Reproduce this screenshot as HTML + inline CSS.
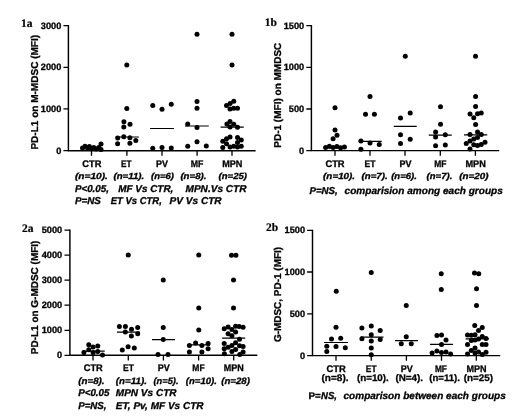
<!DOCTYPE html>
<html><head><meta charset="utf-8"><title>Figure</title>
<style>
html,body{margin:0;padding:0;background:#fff;}
body{width:520px;height:416px;overflow:hidden;}
svg{display:block;will-change:transform;}
text{text-rendering:geometricPrecision;font-family:"Liberation Sans",sans-serif;font-weight:bold;fill:#000;stroke:#000;stroke-width:.3px;}
.b{font-size:9.6px;}
.bi{font-size:10px;font-style:italic;}
.bi2{font-size:8.8px;font-style:italic;}
.bi3{font-size:9.2px;font-style:italic;}
.tk{font-size:9.2px;}
.yl{font-size:10px;}
.tag{font-family:"Liberation Serif",serif;font-size:11.5px;stroke-width:.2px;}
</style></head><body>
<svg width="520" height="416" viewBox="0 0 520 416">
<rect width="520" height="416" fill="#fff"/>
<g id="p1a">
<path d="M68.4 25.05V150.65H255.6" fill="none" stroke="#000" stroke-width="1.45" stroke-linejoin="miter"/>
<path d="M63.4 25.7H68.4M63.4 67.3H68.4M63.4 108.9H68.4M63.4 150.65H68.4M91.5 150.65V155.85M126.9 150.65V155.85M162.0 150.65V155.85M197.1 150.65V155.85M232.0 150.65V155.85" fill="none" stroke="#000" stroke-width="1.3"/>
<text class="tk" x="61.3" y="28.70" text-anchor="end">3000</text>
<text class="tk" x="61.3" y="70.30" text-anchor="end">2000</text>
<text class="tk" x="61.3" y="111.90" text-anchor="end">1000</text>
<text class="tk" x="61.3" y="153.65" text-anchor="end">0</text>
<text class="yl" transform="translate(37.6 149.6) rotate(-90)" textLength="114.7" lengthAdjust="spacingAndGlyphs">PD-L1 on M-MDSC (MFI)</text>
<text class="tag" x="21.1" y="26.9">1a</text>
<path d="M115.5 137.00H138.9M150.1 128.50H173.9M185 126.00H208.75M220.6 127.10H243.75" fill="none" stroke="#000" stroke-width="1.2"/>
<g fill="#000"><circle cx="82.5" cy="148.1" r="2.5"/><circle cx="85" cy="146.25" r="2.5"/><circle cx="87.5" cy="148" r="2.5"/><circle cx="89.4" cy="146.5" r="2.5"/><circle cx="91.25" cy="148.75" r="2.5"/><circle cx="93.75" cy="147.5" r="2.5"/><circle cx="96.25" cy="149" r="2.5"/><circle cx="98.75" cy="147.5" r="2.5"/><circle cx="101" cy="149.5" r="2.5"/><circle cx="101" cy="144" r="2.5"/><circle cx="126.8" cy="65" r="2.5"/><circle cx="126.8" cy="108.4" r="2.5"/><circle cx="123.9" cy="121.7" r="2.5"/><circle cx="130.0" cy="124.3" r="2.5"/><circle cx="123.8" cy="127.0" r="2.5"/><circle cx="117.7" cy="138.0" r="2.5"/><circle cx="123.8" cy="136.7" r="2.5"/><circle cx="129.9" cy="137.8" r="2.5"/><circle cx="135.8" cy="140.6" r="2.5"/><circle cx="117.6" cy="143.8" r="2.5"/><circle cx="129.9" cy="143.2" r="2.5"/><circle cx="152.75" cy="105.4" r="2.5"/><circle cx="162" cy="109.25" r="2.5"/><circle cx="171.25" cy="104.2" r="2.5"/><circle cx="152.75" cy="148.25" r="2.5"/><circle cx="162" cy="147.5" r="2.5"/><circle cx="171.25" cy="148" r="2.5"/><circle cx="197" cy="34.2" r="2.5"/><circle cx="197" cy="101.5" r="2.5"/><circle cx="197" cy="108.2" r="2.5"/><circle cx="187.7" cy="124.1" r="2.5"/><circle cx="197" cy="127.5" r="2.5"/><circle cx="197" cy="141.7" r="2.5"/><circle cx="187.7" cy="146.3" r="2.5"/><circle cx="206.3" cy="145.9" r="2.5"/><circle cx="232" cy="34.2" r="2.5"/><circle cx="232" cy="65.1" r="2.5"/><circle cx="233.75" cy="101.3" r="2.5"/><circle cx="230.1" cy="103.6" r="2.5"/><circle cx="226.5" cy="105.5" r="2.5"/><circle cx="230" cy="108.9" r="2.5"/><circle cx="233.75" cy="108.25" r="2.5"/><circle cx="237.5" cy="108.25" r="2.5"/><circle cx="230" cy="121.4" r="2.5"/><circle cx="226.9" cy="123.9" r="2.5"/><circle cx="233.75" cy="124.25" r="2.5"/><circle cx="230" cy="127" r="2.5"/><circle cx="237.5" cy="127.25" r="2.5"/><circle cx="230" cy="136.9" r="2.5"/><circle cx="226.5" cy="138.75" r="2.5"/><circle cx="237.5" cy="137.5" r="2.5"/><circle cx="241.25" cy="140" r="2.5"/><circle cx="222.75" cy="141.25" r="2.5"/><circle cx="237.5" cy="142.5" r="2.5"/><circle cx="226.5" cy="143.75" r="2.5"/><circle cx="241.25" cy="146.25" r="2.5"/><circle cx="222.75" cy="147.5" r="2.5"/><circle cx="230" cy="146.9" r="2.5"/><circle cx="233.75" cy="146.25" r="2.5"/><circle cx="237.5" cy="146.9" r="2.5"/></g>
</g>
<g id="p1b">
<path d="M311.4 25.05V150.6H499.2" fill="none" stroke="#000" stroke-width="1.45" stroke-linejoin="miter"/>
<path d="M306.3 25.7H311.4M306.3 67.3H311.4M306.3 109.0H311.4M306.3 150.6H311.4M335 150.6V155.80M370 150.6V155.80M405 150.6V155.80M440.3 150.6V155.80M475.4 150.6V155.80" fill="none" stroke="#000" stroke-width="1.3"/>
<text class="tk" x="304.2" y="28.70" text-anchor="end">1500</text>
<text class="tk" x="304.2" y="70.30" text-anchor="end">1000</text>
<text class="tk" x="304.2" y="112.00" text-anchor="end">500</text>
<text class="tk" x="304.2" y="153.60" text-anchor="end">0</text>
<text class="yl" transform="translate(281.2 147.7) rotate(-90)" textLength="105.0" lengthAdjust="spacingAndGlyphs">PD-1 (MFI) on MMDSC</text>
<text class="tag" x="264.7" y="26.4">1b</text>
<path d="M323.75 148.00H346.5M358.75 141.30H381.75M393.75 126.45H416.75M428.75 135.20H451.75M464 134.80H487.25" fill="none" stroke="#000" stroke-width="1.2"/>
<g fill="#000"><circle cx="335" cy="107.75" r="2.5"/><circle cx="335" cy="130" r="2.5"/><circle cx="337" cy="135.25" r="2.5"/><circle cx="333.1" cy="138.75" r="2.5"/><circle cx="325.6" cy="147.5" r="2.5"/><circle cx="329.4" cy="146.25" r="2.5"/><circle cx="333.1" cy="147.5" r="2.5"/><circle cx="336.9" cy="146.5" r="2.5"/><circle cx="340.6" cy="147.75" r="2.5"/><circle cx="344.4" cy="146.9" r="2.5"/><circle cx="370" cy="96.6" r="2.5"/><circle cx="365.5" cy="114.3" r="2.5"/><circle cx="374.4" cy="114.3" r="2.5"/><circle cx="360.9" cy="141.1" r="2.5"/><circle cx="370" cy="143" r="2.5"/><circle cx="379.25" cy="144.5" r="2.5"/><circle cx="360.9" cy="149.3" r="2.5"/><circle cx="405.25" cy="56.25" r="2.5"/><circle cx="410.2" cy="113" r="2.5"/><circle cx="400.5" cy="117.9" r="2.5"/><circle cx="400.5" cy="134.8" r="2.5"/><circle cx="410.2" cy="139.25" r="2.5"/><circle cx="400.5" cy="143.6" r="2.5"/><circle cx="440.5" cy="106.75" r="2.5"/><circle cx="440.5" cy="124.3" r="2.5"/><circle cx="435.6" cy="132.1" r="2.5"/><circle cx="435.6" cy="137.1" r="2.5"/><circle cx="445.3" cy="134.8" r="2.5"/><circle cx="435.6" cy="145.7" r="2.5"/><circle cx="445.3" cy="144.9" r="2.5"/><circle cx="475.5" cy="56.25" r="2.5"/><circle cx="475.6" cy="96.5" r="2.5"/><circle cx="475.6" cy="106.5" r="2.5"/><circle cx="470" cy="114" r="2.5"/><circle cx="477.5" cy="113.75" r="2.5"/><circle cx="481.25" cy="112.9" r="2.5"/><circle cx="473.75" cy="117.75" r="2.5"/><circle cx="475.6" cy="124.4" r="2.5"/><circle cx="477.5" cy="131.9" r="2.5"/><circle cx="470" cy="134.5" r="2.5"/><circle cx="481.25" cy="134.6" r="2.5"/><circle cx="477.5" cy="137.4" r="2.5"/><circle cx="473.75" cy="139.1" r="2.5"/><circle cx="470" cy="141" r="2.5"/><circle cx="466.25" cy="143.5" r="2.5"/><circle cx="485" cy="142.25" r="2.5"/><circle cx="481.25" cy="144.4" r="2.5"/><circle cx="473.75" cy="144.75" r="2.5"/><circle cx="477.5" cy="145.6" r="2.5"/><circle cx="470" cy="149" r="2.5"/></g>
</g>
<g id="p2a">
<path d="M69.9 229.55V355.3H257.3" fill="none" stroke="#000" stroke-width="1.45" stroke-linejoin="miter"/>
<path d="M64.5 230.2H69.9M64.5 255.2H69.9M64.5 280.2H69.9M64.5 305.2H69.9M64.5 330.3H69.9M64.5 355.3H69.9M93 355.3V360.50M128.3 355.3V360.50M163.4 355.3V360.50M198.6 355.3V360.50M233.7 355.3V360.50" fill="none" stroke="#000" stroke-width="1.3"/>
<text class="tk" x="62.2" y="233.20" text-anchor="end">5000</text>
<text class="tk" x="62.2" y="258.20" text-anchor="end">4000</text>
<text class="tk" x="62.2" y="283.20" text-anchor="end">3000</text>
<text class="tk" x="62.2" y="308.20" text-anchor="end">2000</text>
<text class="tk" x="62.2" y="333.30" text-anchor="end">1000</text>
<text class="tk" x="62.2" y="358.30" text-anchor="end">0</text>
<text class="yl" transform="translate(37.7 354.2) rotate(-90)" textLength="113.6" lengthAdjust="spacingAndGlyphs">PD-L1 on G-MDSC (MFI)</text>
<text class="tag" x="22.1" y="231.5">2a</text>
<path d="M82.5 351.20H104.75M117 332.20H140M152 339.70H175M187 344.95H210M222.1 338.05H245.2" fill="none" stroke="#000" stroke-width="1.2"/>
<g fill="#000"><circle cx="88.75" cy="344.75" r="2.5"/><circle cx="93.1" cy="346.9" r="2.5"/><circle cx="97.75" cy="346" r="2.5"/><circle cx="88.75" cy="349.75" r="2.5"/><circle cx="97.75" cy="351.5" r="2.5"/><circle cx="83.9" cy="352.4" r="2.5"/><circle cx="93.1" cy="352.5" r="2.5"/><circle cx="102.5" cy="355" r="2.5"/><circle cx="128.25" cy="255" r="2.5"/><circle cx="119.4" cy="326.4" r="2.5"/><circle cx="125.4" cy="326.4" r="2.5"/><circle cx="137.7" cy="327.4" r="2.5"/><circle cx="131.5" cy="329.3" r="2.5"/><circle cx="125.3" cy="332.1" r="2.5"/><circle cx="137.7" cy="333.8" r="2.5"/><circle cx="131.4" cy="336" r="2.5"/><circle cx="128.1" cy="346.8" r="2.5"/><circle cx="134.3" cy="348.1" r="2.5"/><circle cx="122.3" cy="350" r="2.5"/><circle cx="163.25" cy="280" r="2.5"/><circle cx="163.25" cy="327.5" r="2.5"/><circle cx="163.25" cy="339.5" r="2.5"/><circle cx="158" cy="354.5" r="2.5"/><circle cx="168" cy="354.5" r="2.5"/><circle cx="198.75" cy="255" r="2.5"/><circle cx="198.75" cy="308" r="2.5"/><circle cx="198.75" cy="330" r="2.5"/><circle cx="195.6" cy="343.1" r="2.5"/><circle cx="208.1" cy="343.5" r="2.5"/><circle cx="189.4" cy="345.6" r="2.5"/><circle cx="201.9" cy="345.6" r="2.5"/><circle cx="208.1" cy="348.75" r="2.5"/><circle cx="189.4" cy="351.9" r="2.5"/><circle cx="201.9" cy="351.9" r="2.5"/><circle cx="231.5" cy="255.25" r="2.5"/><circle cx="235.9" cy="255.25" r="2.5"/><circle cx="233.5" cy="280" r="2.5"/><circle cx="224.2" cy="328.85" r="2.5"/><circle cx="228.1" cy="326.9" r="2.5"/><circle cx="231.9" cy="329.6" r="2.5"/><circle cx="235.6" cy="326.15" r="2.5"/><circle cx="239.2" cy="326.5" r="2.5"/><circle cx="243.1" cy="327.3" r="2.5"/><circle cx="235.6" cy="331.9" r="2.5"/><circle cx="228.1" cy="333.85" r="2.5"/><circle cx="231.9" cy="335.8" r="2.5"/><circle cx="239.5" cy="339.2" r="2.5"/><circle cx="224.2" cy="343.5" r="2.5"/><circle cx="235.6" cy="342.7" r="2.5"/><circle cx="231.9" cy="345.4" r="2.5"/><circle cx="239.5" cy="345.8" r="2.5"/><circle cx="243.1" cy="346.5" r="2.5"/><circle cx="228.1" cy="347.3" r="2.5"/><circle cx="224.2" cy="348.85" r="2.5"/><circle cx="235.6" cy="349.6" r="2.5"/><circle cx="231.9" cy="351.5" r="2.5"/><circle cx="243.1" cy="351.9" r="2.5"/><circle cx="224.4" cy="353.75" r="2.5"/><circle cx="239.75" cy="354.4" r="2.5"/><circle cx="233.5" cy="308" r="2.5"/></g>
</g>
<g id="p2b">
<path d="M312.5 229.65V355.6H500.2" fill="none" stroke="#000" stroke-width="1.45" stroke-linejoin="miter"/>
<path d="M307.1 230.3H312.5M307.1 272.0H312.5M307.1 313.8H312.5M307.1 355.6H312.5M336 355.6V360.80M371.25 355.6V360.80M406.4 355.6V360.80M441.5 355.6V360.80M476.3 355.6V360.80" fill="none" stroke="#000" stroke-width="1.3"/>
<text class="tk" x="305.0" y="233.30" text-anchor="end">1500</text>
<text class="tk" x="305.0" y="275.00" text-anchor="end">1000</text>
<text class="tk" x="305.0" y="316.80" text-anchor="end">500</text>
<text class="tk" x="305.0" y="358.60" text-anchor="end">0</text>
<text class="yl" transform="translate(281.4 342.1) rotate(-90)" textLength="95.2" lengthAdjust="spacingAndGlyphs">G-MDSC, PD-1 (MFI)</text>
<text class="tag" x="266.1" y="230.8">2b</text>
<path d="M324 342.50H348.1M360.6 337.10H383.5M395 340.70H418M430 344.30H453M465.6 338.95H489" fill="none" stroke="#000" stroke-width="1.2"/>
<g fill="#000"><circle cx="336.25" cy="291.25" r="2.5"/><circle cx="336" cy="327.3" r="2.5"/><circle cx="331.5" cy="338.9" r="2.5"/><circle cx="340.7" cy="338.2" r="2.5"/><circle cx="326.8" cy="346.3" r="2.5"/><circle cx="336" cy="346.5" r="2.5"/><circle cx="345.3" cy="347.8" r="2.5"/><circle cx="326.8" cy="351.6" r="2.5"/><circle cx="371.25" cy="272.5" r="2.5"/><circle cx="361.9" cy="327.9" r="2.5"/><circle cx="371.25" cy="326" r="2.5"/><circle cx="380.2" cy="330.6" r="2.5"/><circle cx="371.25" cy="334.75" r="2.5"/><circle cx="361.9" cy="338.75" r="2.5"/><circle cx="371.25" cy="341" r="2.5"/><circle cx="380.2" cy="339.4" r="2.5"/><circle cx="371.25" cy="348.1" r="2.5"/><circle cx="371.25" cy="354.75" r="2.5"/><circle cx="406.25" cy="305.5" r="2.5"/><circle cx="406.25" cy="336.75" r="2.5"/><circle cx="401.25" cy="343.75" r="2.5"/><circle cx="411.25" cy="343.75" r="2.5"/><circle cx="441.25" cy="273.75" r="2.5"/><circle cx="441.25" cy="289.5" r="2.5"/><circle cx="436.9" cy="335.4" r="2.5"/><circle cx="441.5" cy="335" r="2.5"/><circle cx="446" cy="340" r="2.5"/><circle cx="441.5" cy="344.4" r="2.5"/><circle cx="436.9" cy="350.9" r="2.5"/><circle cx="432.1" cy="353.1" r="2.5"/><circle cx="441.5" cy="352.5" r="2.5"/><circle cx="446" cy="351.9" r="2.5"/><circle cx="450.6" cy="354" r="2.5"/><circle cx="474.5" cy="272.9" r="2.5"/><circle cx="478.75" cy="273.75" r="2.5"/><circle cx="476.5" cy="288.75" r="2.5"/><circle cx="476.5" cy="305.5" r="2.5"/><circle cx="474.75" cy="325.6" r="2.5"/><circle cx="482.25" cy="327.5" r="2.5"/><circle cx="478.5" cy="330.6" r="2.5"/><circle cx="467.5" cy="335" r="2.5"/><circle cx="471.25" cy="335.25" r="2.5"/><circle cx="475" cy="334.75" r="2.5"/><circle cx="482.25" cy="336.5" r="2.5"/><circle cx="486" cy="338.5" r="2.5"/><circle cx="478.5" cy="339" r="2.5"/><circle cx="475" cy="340" r="2.5"/><circle cx="471.25" cy="340.6" r="2.5"/><circle cx="467.5" cy="344.4" r="2.5"/><circle cx="482.25" cy="344.4" r="2.5"/><circle cx="486" cy="344.4" r="2.5"/><circle cx="475" cy="348.1" r="2.5"/><circle cx="471.25" cy="350.6" r="2.5"/><circle cx="478.5" cy="351.9" r="2.5"/><circle cx="486" cy="352.25" r="2.5"/><circle cx="467.5" cy="354" r="2.5"/><circle cx="475" cy="353.1" r="2.5"/><circle cx="482.25" cy="354.4" r="2.5"/></g>
</g>
<g id="labels">
<text class="b" x="82.2" y="166.6" textLength="19.2" lengthAdjust="spacingAndGlyphs">CTR</text>
<text class="b" x="121.0" y="166.6" textLength="10.5" lengthAdjust="spacingAndGlyphs">ET</text>
<text class="b" x="156.0" y="166.6" textLength="11.9" lengthAdjust="spacingAndGlyphs">PV</text>
<text class="b" x="190.8" y="166.6" textLength="12.7" lengthAdjust="spacingAndGlyphs">MF</text>
<text class="b" x="222.2" y="166.6" textLength="20.2" lengthAdjust="spacingAndGlyphs">MPN</text>
<text class="bi2" x="74.9" y="179.2" textLength="33.0" lengthAdjust="spacingAndGlyphs">(n=10).</text>
<text class="bi2" x="113.4" y="179.2" textLength="30.9" lengthAdjust="spacingAndGlyphs">(n=11).</text>
<text class="bi2" x="151.0" y="179.2" textLength="22.9" lengthAdjust="spacingAndGlyphs">(n=6)</text>
<text class="bi2" x="180.4" y="179.2" textLength="26.1" lengthAdjust="spacingAndGlyphs">(n=8).</text>
<text class="bi2" x="218.5" y="179.2" textLength="28.5" lengthAdjust="spacingAndGlyphs">(n=25)</text>
<text class="bi" x="74.9" y="191.5" textLength="34.1" lengthAdjust="spacingAndGlyphs">P&lt;0.05,</text>
<text class="bi" x="118.3" y="191.5" textLength="55.0" lengthAdjust="spacingAndGlyphs">MF Vs CTR,</text>
<text class="bi" x="185.5" y="191.5" textLength="61.0" lengthAdjust="spacingAndGlyphs">MPN.Vs CTR</text>
<text class="bi" x="74.9" y="203.8" textLength="26.0" lengthAdjust="spacingAndGlyphs">P=NS</text>
<text class="bi" x="110.7" y="203.8" textLength="51.1" lengthAdjust="spacingAndGlyphs">ET Vs CTR,</text>
<text class="bi" x="169.6" y="203.8" textLength="52.0" lengthAdjust="spacingAndGlyphs">PV Vs CTR</text>
<text class="b" x="325.4" y="166.6" textLength="19.2" lengthAdjust="spacingAndGlyphs">CTR</text>
<text class="b" x="364.6" y="166.6" textLength="11.0" lengthAdjust="spacingAndGlyphs">ET</text>
<text class="b" x="399.5" y="166.6" textLength="12.0" lengthAdjust="spacingAndGlyphs">PV</text>
<text class="b" x="434.3" y="166.6" textLength="12.2" lengthAdjust="spacingAndGlyphs">MF</text>
<text class="b" x="465.4" y="166.6" textLength="20.4" lengthAdjust="spacingAndGlyphs">MPN</text>
<text class="bi2" x="323.1" y="179.1" textLength="32.0" lengthAdjust="spacingAndGlyphs">(n=10).</text>
<text class="bi2" x="361.5" y="179.1" textLength="26.2" lengthAdjust="spacingAndGlyphs">(n=7).</text>
<text class="bi2" x="391.2" y="179.1" textLength="25.7" lengthAdjust="spacingAndGlyphs">(n=6).</text>
<text class="bi2" x="426.6" y="179.1" textLength="25.7" lengthAdjust="spacingAndGlyphs">(n=7).</text>
<text class="bi2" x="459.2" y="179.1" textLength="29.3" lengthAdjust="spacingAndGlyphs">(n=20)</text>
<text class="bi" x="309.5" y="193.5" textLength="28.2" lengthAdjust="spacingAndGlyphs">P=NS,</text>
<text class="bi" x="344.6" y="193.5" textLength="158.2" lengthAdjust="spacingAndGlyphs">comparision among each groups</text>
<text class="b" x="83.8" y="371.2" textLength="19.0" lengthAdjust="spacingAndGlyphs">CTR</text>
<text class="b" x="123.1" y="371.2" textLength="10.9" lengthAdjust="spacingAndGlyphs">ET</text>
<text class="b" x="157.7" y="371.2" textLength="12.0" lengthAdjust="spacingAndGlyphs">PV</text>
<text class="b" x="192.3" y="371.2" textLength="12.3" lengthAdjust="spacingAndGlyphs">MF</text>
<text class="b" x="223.8" y="371.2" textLength="20.0" lengthAdjust="spacingAndGlyphs">MPN</text>
<text class="bi3" x="78.2" y="384.2" textLength="26.4" lengthAdjust="spacingAndGlyphs">(n=8).</text>
<text class="bi3" x="115.8" y="384.2" textLength="31.1" lengthAdjust="spacingAndGlyphs">(n=11).</text>
<text class="bi3" x="153.5" y="384.2" textLength="25.0" lengthAdjust="spacingAndGlyphs">(n=5).</text>
<text class="bi3" x="185.8" y="384.2" textLength="31.1" lengthAdjust="spacingAndGlyphs">(n=10).</text>
<text class="bi3" x="221.2" y="384.2" textLength="28.8" lengthAdjust="spacingAndGlyphs">(n=28)</text>
<text class="bi" x="78.2" y="396.25" textLength="31.3" lengthAdjust="spacingAndGlyphs">P&lt;0.05</text>
<text class="bi" x="115.8" y="396.25" textLength="60.7" lengthAdjust="spacingAndGlyphs">MPN Vs CTR</text>
<text class="bi" x="78.2" y="408.5" textLength="28.3" lengthAdjust="spacingAndGlyphs">P=NS,</text>
<text class="bi" x="115.8" y="408.5" textLength="87.7" lengthAdjust="spacingAndGlyphs">ET, Pv, MF Vs CTR</text>
<text class="b" x="326.5" y="371.5" textLength="19.3" lengthAdjust="spacingAndGlyphs">CTR</text>
<text class="b" x="365.8" y="371.5" textLength="10.7" lengthAdjust="spacingAndGlyphs">ET</text>
<text class="b" x="400.8" y="371.5" textLength="12.0" lengthAdjust="spacingAndGlyphs">PV</text>
<text class="b" x="434.9" y="371.5" textLength="12.0" lengthAdjust="spacingAndGlyphs">MF</text>
<text class="b" x="466.5" y="371.5" textLength="20.1" lengthAdjust="spacingAndGlyphs">MPN</text>
<text class="b" x="321.5" y="381.3" textLength="27.0" lengthAdjust="spacingAndGlyphs">(n=8).</text>
<text class="b" x="356.9" y="381.3" textLength="31.9" lengthAdjust="spacingAndGlyphs">(n=10).</text>
<text class="b" x="395.4" y="381.3" textLength="27.7" lengthAdjust="spacingAndGlyphs">(N=4).</text>
<text class="b" x="429.2" y="381.3" textLength="30.8" lengthAdjust="spacingAndGlyphs">(n=11).</text>
<text class="b" x="463.8" y="381.3" textLength="29.3" lengthAdjust="spacingAndGlyphs">(n=25)</text>
<text class="b" x="308.5" y="398.5" textLength="12.3" lengthAdjust="spacingAndGlyphs">P=</text>
<text class="bi" x="321.0" y="398.5" textLength="15.9" lengthAdjust="spacingAndGlyphs">NS,</text>
<text class="bi" x="343.5" y="398.5" textLength="162.3" lengthAdjust="spacingAndGlyphs">comparison between each groups</text>
</g>
</svg>
</body></html>
